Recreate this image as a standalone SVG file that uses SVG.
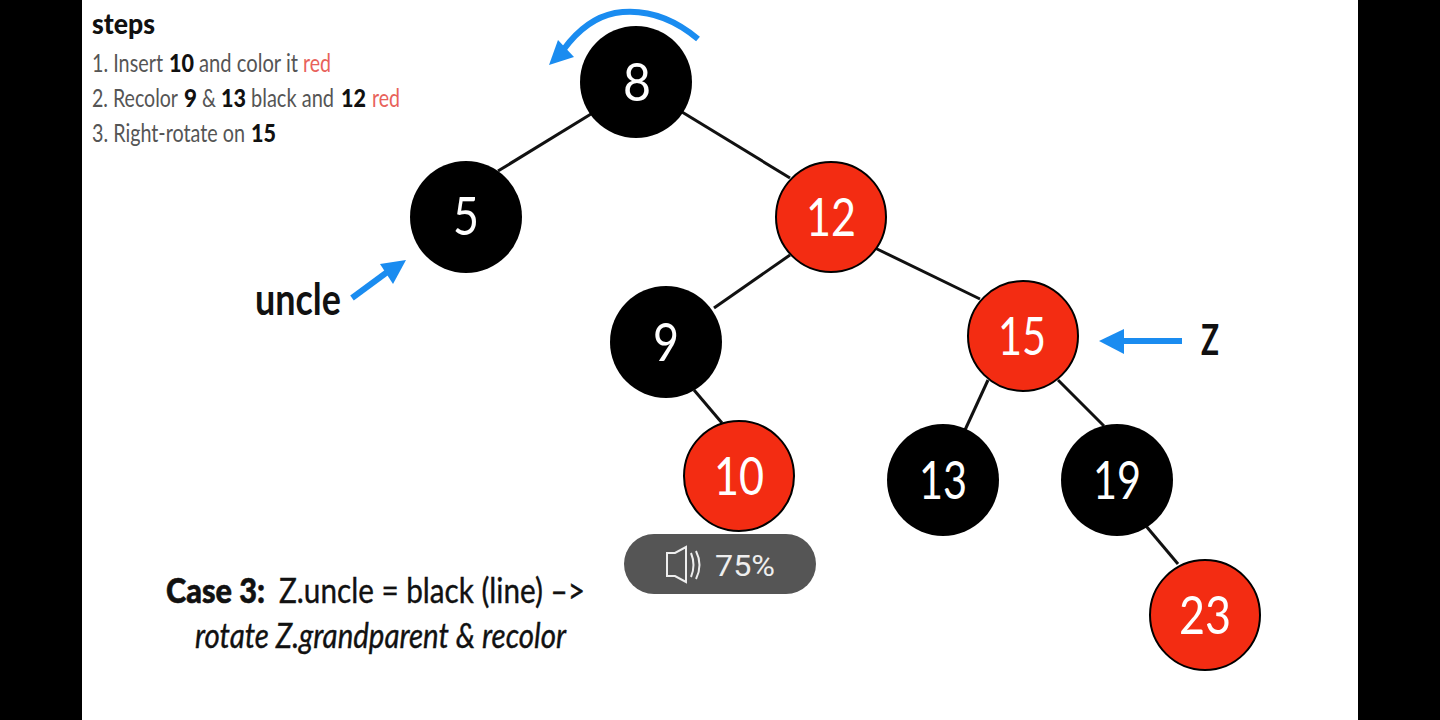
<svg xmlns="http://www.w3.org/2000/svg" width="1440" height="720" viewBox="0 0 1440 720">
<style>
.n{stroke:#000;stroke-width:2}
.b{fill:#000}
.r{fill:#f32c12}
.nl{font-family:"Lato","Open Sans",sans-serif;font-size:52px;fill:#fff;text-anchor:middle}
.e{stroke:#111;stroke-width:3;fill:none}
.s{font-family:"Lato","Liberation Sans",sans-serif;font-size:25px;fill:#555}
.k{font-family:"Lato","Liberation Sans",sans-serif;font-size:25px;font-weight:900;fill:#111}
.d{font-family:"Lato","Liberation Sans",sans-serif;font-size:25px;fill:#e8625a}
.t{font-family:"Lato","Liberation Sans",sans-serif;fill:#111}
.a{stroke:#1a8cf0;stroke-width:6;fill:none}
.h{fill:#1a8cf0}
</style>
<rect width="1440" height="720" fill="#000"/>
<rect x="82" width="1276" height="720" fill="#fff"/>
<g id="connectors">
<line class="e" x1="591" y1="114" x2="498" y2="171"/>
<line class="e" x1="682" y1="112" x2="790" y2="178"/>
<line class="e" x1="790" y1="255" x2="714" y2="308"/>
<line class="e" x1="875" y1="248" x2="980" y2="299"/>
<line class="e" x1="694" y1="390" x2="722" y2="423"/>
<line class="e" x1="988" y1="380" x2="965" y2="430"/>
<line class="e" x1="1058" y1="380" x2="1104" y2="426"/>
<line class="e" x1="1146" y1="526" x2="1178" y2="564"/>
</g>
<g id="node-8"><circle class="b" cx="636" cy="82" r="56"/><text class="nl" x="637" y="101" textLength="28" lengthAdjust="spacingAndGlyphs">8</text></g>
<g id="node-5"><circle class="b" cx="466" cy="217" r="56"/><text class="nl" x="466" y="235" textLength="26" lengthAdjust="spacingAndGlyphs">5</text></g>
<g id="node-12"><circle class="r n" cx="831" cy="217" r="55"/><text class="nl" x="831" y="236" textLength="50" lengthAdjust="spacingAndGlyphs">12</text></g>
<g id="node-9"><circle class="b" cx="666" cy="342" r="56"/><text class="nl" x="666" y="361" textLength="26" lengthAdjust="spacingAndGlyphs">9</text></g>
<g id="node-15"><circle class="r n" cx="1023" cy="336" r="55"/><text class="nl" x="1022" y="355" textLength="48" lengthAdjust="spacingAndGlyphs">15</text></g>
<g id="node-10"><circle class="r n" cx="739" cy="476" r="55"/><text class="nl" x="739" y="495" textLength="50" lengthAdjust="spacingAndGlyphs">10</text></g>
<g id="node-13"><circle class="b" cx="943" cy="480" r="56"/><text class="nl" x="943" y="499" textLength="48" lengthAdjust="spacingAndGlyphs">13</text></g>
<g id="node-19"><circle class="b" cx="1117" cy="480" r="56"/><text class="nl" x="1117" y="499" textLength="48" lengthAdjust="spacingAndGlyphs">19</text></g>
<g id="node-23"><circle class="r n" cx="1205" cy="615" r="55"/><text class="nl" x="1205" y="634" textLength="52" lengthAdjust="spacingAndGlyphs">23</text></g>
<g id="rotate-arrow">
<path class="a" d="M698 39C668 14 640 9 615 13C595 17 578 30 564 49"/>
<polygon class="h" points="549,65 558,40 574,57"/>
</g>
<g id="uncle-arrow">
<line class="a" x1="352" y1="298" x2="390" y2="270"/>
<polygon class="h" points="406,260 393,284 380,264"/>
<text class="t" x="255" y="315" font-size="44" font-weight="700" textLength="86" lengthAdjust="spacingAndGlyphs">uncle</text>
</g>
<g id="z-arrow">
<line class="a" x1="1182" y1="341" x2="1118" y2="341"/>
<polygon class="h" points="1099,341 1124,329 1124,354"/>
<text class="t" x="1201" y="355" font-size="42" font-weight="700" textLength="18" lengthAdjust="spacingAndGlyphs">Z</text>
</g>
<g id="steps">
<text class="t" x="92" y="34" font-size="29" font-weight="900" textLength="63" lengthAdjust="spacingAndGlyphs">steps</text>
<text class="s" x="92" y="72" textLength="71" lengthAdjust="spacingAndGlyphs">1. Insert</text>
<text class="k" x="169" y="72" textLength="25" lengthAdjust="spacingAndGlyphs">10</text>
<text class="s" x="199" y="72" textLength="99" lengthAdjust="spacingAndGlyphs">and color it</text>
<text class="d" x="303" y="72" textLength="28" lengthAdjust="spacingAndGlyphs">red</text>
<text class="s" x="92" y="107" textLength="86" lengthAdjust="spacingAndGlyphs">2. Recolor</text>
<text class="k" x="184" y="107" textLength="13" lengthAdjust="spacingAndGlyphs">9</text>
<text class="s" x="202" y="107" textLength="14" lengthAdjust="spacingAndGlyphs">&amp;</text>
<text class="k" x="221" y="107" textLength="25" lengthAdjust="spacingAndGlyphs">13</text>
<text class="s" x="251" y="107" textLength="83" lengthAdjust="spacingAndGlyphs">black and</text>
<text class="k" x="341" y="107" textLength="25" lengthAdjust="spacingAndGlyphs">12</text>
<text class="d" x="372" y="107" textLength="28" lengthAdjust="spacingAndGlyphs">red</text>
<text class="s" x="92" y="142" textLength="153" lengthAdjust="spacingAndGlyphs">3. Right-rotate on</text>
<text class="k" x="251" y="142" textLength="25" lengthAdjust="spacingAndGlyphs">15</text>
</g>
<g id="case">
<text class="t" x="166" y="603" font-size="35" font-weight="900" stroke="#111" stroke-width="0.6" textLength="99" lengthAdjust="spacingAndGlyphs">Case 3:</text>
<text class="t" x="279" y="603" font-size="35" stroke="#111" stroke-width="0.4" textLength="306" lengthAdjust="spacingAndGlyphs">Z.uncle = black (line) –&gt;</text>
<text class="t" x="195" y="648" font-size="35" font-style="italic" stroke="#111" stroke-width="0.4" textLength="371" lengthAdjust="spacingAndGlyphs">rotate Z.grandparent &amp; recolor</text>
</g>
<g id="volume">
<rect x="624" y="534" width="192" height="60" rx="30" fill="#555"/>
<path d="M667 553H675L686 547V582L675 576H667Z" fill="none" stroke="#eee" stroke-width="2"/>
<path d="M691 553Q696 565 691 577M696 551Q703 565 696 579" fill="none" stroke="#eee" stroke-width="2"/>
<text x="715" y="576" font-family="Roboto,sans-serif" font-size="30" fill="#eee" textLength="60" lengthAdjust="spacingAndGlyphs">75%</text>
</g>
</svg>
